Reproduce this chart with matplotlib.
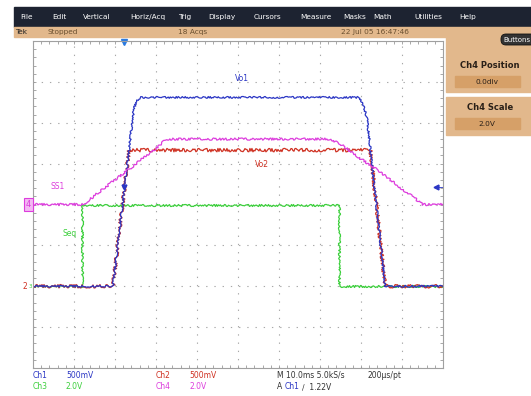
import matplotlib
matplotlib.use("Agg")
import matplotlib.pyplot as plt
import matplotlib.transforms as mtransforms
from matplotlib.patches import Rectangle, FancyBboxPatch

# time in ms (10 ms/div), level in screen divisions (0 = bottom of graticule)
ch1_t = [0, 19.5, 24.6, 25.4, 26.4, 79.6, 80.6, 81.5, 85.9, 100]
ch1_y = [2.0, 2.0, 6.35, 6.55, 6.62, 6.62, 6.45, 6.07, 2.0, 2.0]

ch2_t = [0, 19.5, 23.4, 82.3, 85.9, 100]
ch2_y = [2.0, 2.0, 5.33, 5.33, 2.0, 2.0]

ch3_t = [0, 12.0, 12.0, 74.6, 74.6, 100]
ch3_y = [2.0, 2.0, 4.0, 4.0, 2.0, 2.0]

ch4_t = [0, 12.2, 31.0, 32.4, 72.4, 75.0, 79.0, 82.9, 95.1, 100]
ch4_y = [4.0, 4.0, 5.45, 5.6, 5.6, 5.48, 5.18, 4.92, 4.0, 4.0]

trig_time = 22.3
trig_level = 4.44

menu_items = ["File", "Edit", "Vertical", "Horiz/Acq", "Trig", "Display",
              "Cursors", "Measure", "Masks", "Math", "Utilities", "Help"]
menu_x = [20, 52, 83, 130, 178, 208, 254, 300, 343, 373, 414, 459]

BLUE = "#2b36c4"
RED = "#cf3122"
GREEN = "#3ccf3c"
MAGENTA = "#dd3ddd"
TAN = "#e2b88c"
TAN_DARK = "#d6a068"

fig = plt.figure(figsize=(5.31, 3.96), dpi=100)

# background / scope UI in pixel coordinates
bg = fig.add_axes([0, 0, 1, 1])
bg.set_xlim(0, 531)
bg.set_ylim(396, 0)
bg.axis("off")

bg.add_patch(Rectangle((14, 7), 517, 20, color="#1d2331"))
for name, x in zip(menu_items, menu_x):
    bg.text(x, 17, name, color="white", fontsize=5.3, va="center")

bg.add_patch(Rectangle((14, 27), 517, 10, color=TAN))
bg.text(15, 32, "Tek", fontsize=5.3, va="center", color="#222222")
bg.text(48, 32, "Stopped", fontsize=5.3, va="center", color="#6a5030")
bg.text(178, 32, "18 Acqs", fontsize=5.3, va="center", color="#6a5030")
bg.text(341, 32, "22 Jul 05 16:47:46", fontsize=5.3, va="center", color="#6a5030")

# right side panel
bg.add_patch(Rectangle((446, 37), 85, 55, color=TAN))
bg.add_patch(Rectangle((446, 97), 85, 38, color=TAN))
bg.add_patch(FancyBboxPatch((501, 34), 40, 11, boxstyle="round,pad=0,rounding_size=5",
                            fc="#333333", ec="#111111", lw=0.6))
bg.text(503, 39.5, "Buttons", color="white", fontsize=5, va="center")
bg.text(490, 65, "Ch4 Position", fontsize=6, fontweight="bold", ha="center",
        va="center", color="#2a2018")
bg.add_patch(Rectangle((455, 76), 65, 11, color=TAN_DARK))
bg.text(487, 81.5, "0.0div", fontsize=5.3, ha="center", va="center", color="#2a2018")
bg.text(490, 108, "Ch4 Scale", fontsize=6, fontweight="bold", ha="center",
        va="center", color="#2a2018")
bg.add_patch(Rectangle((455, 118), 65, 11, color=TAN_DARK))
bg.text(487, 123.5, "2.0V", fontsize=5.3, ha="center", va="center", color="#2a2018")

# readout at the bottom
row1, row2 = 375.5, 386.5
fs = 5.5
bg.text(33, row1, "Ch1", color=BLUE, fontsize=fs, va="center")
bg.text(66, row1, "500mV", color=BLUE, fontsize=fs, va="center")
bg.text(156, row1, "Ch2", color=RED, fontsize=fs, va="center")
bg.text(189, row1, "500mV", color=RED, fontsize=fs, va="center")
bg.text(277, row1, "M 10.0ms 5.0kS/s", color="#333333", fontsize=fs, va="center")
bg.text(368, row1, "200\u00b5s/pt", color="#333333", fontsize=fs, va="center")
bg.text(33, row2, "Ch3", color=GREEN, fontsize=fs, va="center")
bg.text(66, row2, "2.0V", color=GREEN, fontsize=fs, va="center")
bg.text(156, row2, "Ch4", color=MAGENTA, fontsize=fs, va="center")
bg.text(189, row2, "2.0V", color=MAGENTA, fontsize=fs, va="center")
bg.text(277, row2, "A", color="#333333", fontsize=fs, va="center")
bg.text(285, row2, "Ch1", color=BLUE, fontsize=fs, va="center")
bg.text(302, row2, "\u2215  1.22V", color="#333333", fontsize=fs, va="center")

# graticule
ax = fig.add_axes([33 / 531, 28 / 396, 410 / 531, 327 / 396])
ax.set_xlim(0, 100)
ax.set_ylim(0, 8)
ax.set_xticks(range(0, 101, 10))
ax.set_xticks(range(0, 101, 2), minor=True)
ax.set_yticks(range(0, 9))
ax.set_yticks([i * 0.2 for i in range(41)], minor=True)
ax.tick_params(which="both", direction="in", length=2.5, width=0.6, color="#9a9a9a",
               top=True, right=True, labelbottom=False, labelleft=False)
ax.grid(True, which="major", color="#a8a8a8", lw=0.8, ls=(0, (1.2, 6.2)))
for s in ax.spines.values():
    s.set_color("#a0a0a0")
    s.set_linewidth(0.8)

lines = []
lines.append(ax.plot(ch3_t, ch3_y, color=GREEN, lw=0.9)[0])
lines.append(ax.plot(ch2_t, ch2_y, color=RED, lw=0.9)[0])
lines.append(ax.plot(ch1_t, ch1_y, color=BLUE, lw=0.9)[0])
lines.append(ax.plot(ch4_t, ch4_y, color=MAGENTA, lw=0.9)[0])
for ln, sc in zip(lines, [1.0, 1.7, 0.9, 1.1]):
    ln.set_sketch_params(scale=sc, length=2.5, randomness=8)

# labels on traces
ax.text(51.0, 7.09, "Vo1", color=BLUE, fontsize=5.5, ha="center", va="center")
ax.text(55.9, 4.97, "Vo2", color=RED, fontsize=5.5, ha="center", va="center")
ax.text(6.1, 4.43, "SS1", color=MAGENTA, fontsize=5.5, ha="center", va="center")
ax.text(9.0, 3.3, "Seq", color=GREEN, fontsize=5.5, ha="center", va="center")

# trigger markers
ax.plot([trig_time], [7.97], marker="v", color="#2a7ae0", ms=5, clip_on=False)
ax.plot([trig_time], [trig_level], marker="v", color=BLUE, ms=3.5)
ax.plot([98.4], [trig_level], marker="<", color=BLUE, ms=3.5)
ax.plot([98.4, 100], [trig_level, trig_level], color=BLUE, lw=0.6)

# channel ground markers on the left
tr = mtransforms.blended_transform_factory(ax.transAxes, ax.transData)
ax.text(-0.013, 2.0, "2", color=RED, fontsize=5.5, ha="right", va="center",
        transform=tr, clip_on=False)
ax.text(-0.002, 2.0, "3", color=GREEN, fontsize=4, ha="right", va="center",
        transform=tr, clip_on=False)
ax.text(-0.004, 4.0, "4", color=MAGENTA, fontsize=6, ha="right", va="center",
        transform=tr, clip_on=False,
        bbox=dict(boxstyle="square,pad=0.2", fc="#f3b8f3", ec=MAGENTA, lw=0.8))

fig.savefig("out.png", dpi=100)
plt.close(fig)
